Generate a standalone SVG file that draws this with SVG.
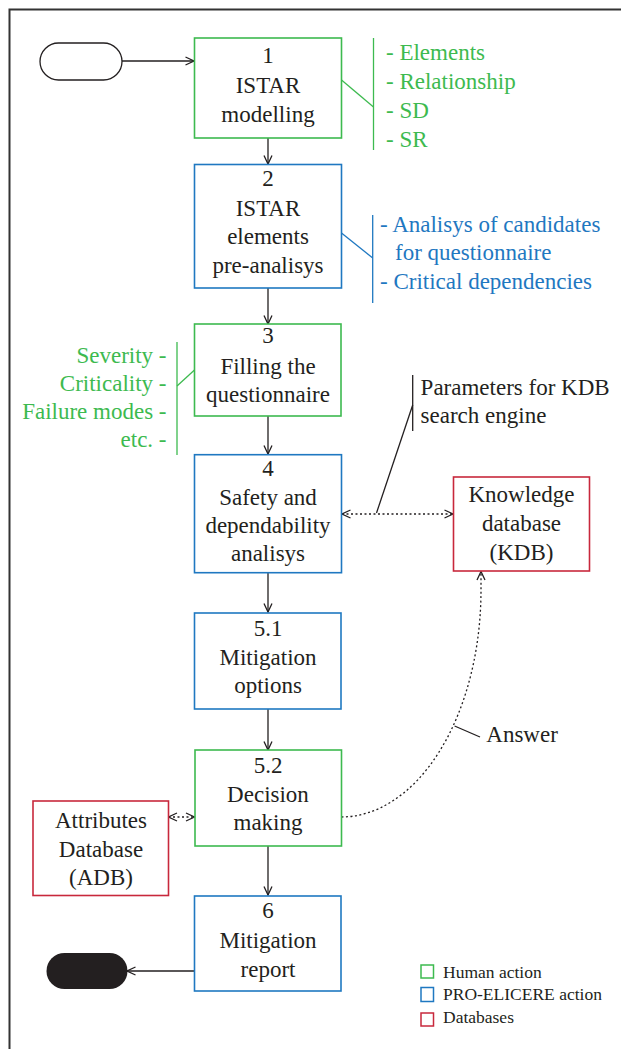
<svg xmlns="http://www.w3.org/2000/svg" width="621" height="1049" viewBox="0 0 621 1049">
<style>
text{font-family:"Liberation Serif","Times New Roman",serif;font-size:23px;fill:#231f20}
.c{text-anchor:middle}
.g{fill:#3dba4f}
.b{fill:#1f78c1}
.r{text-anchor:end}
.leg{font-size:17.5px}
.box{fill:#fff;stroke-width:1.6}
.hum{stroke:#3dba4f}
.pro{stroke:#1f78c1}
.db{stroke:#c8283c}
.ln{fill:none;stroke:#231f20;stroke-width:1.3}
.dot{fill:none;stroke:#231f20;stroke-width:1.3;stroke-dasharray:2 2.5}
</style>
<defs>
<marker id="a" viewBox="0 0 10 10" refX="9.5" refY="5" markerWidth="10" markerHeight="10" markerUnits="userSpaceOnUse" orient="auto-start-reverse">
<path d="M1,1 L9.5,5 L1,9" fill="none" stroke="#231f20" stroke-width="1.3"/>
</marker>
</defs>
<rect width="621" height="1049" fill="#fff"/>
<path d="M9.5,1049 V9.5 H621" fill="none" stroke="#333" stroke-width="2"/>
<g id="connectors">
<line class="ln" x1="122" y1="61" x2="194" y2="61" marker-end="url(#a)"/>
<line class="ln" x1="268" y1="138" x2="268" y2="164" marker-end="url(#a)"/>
<line class="ln" x1="268" y1="288" x2="268" y2="324" marker-end="url(#a)"/>
<line class="ln" x1="268" y1="416" x2="268" y2="454" marker-end="url(#a)"/>
<line class="ln" x1="268" y1="573" x2="268" y2="612" marker-end="url(#a)"/>
<line class="ln" x1="268" y1="709" x2="268" y2="750" marker-end="url(#a)"/>
<line class="ln" x1="268" y1="846" x2="268" y2="895" marker-end="url(#a)"/>
<line class="ln" x1="194" y1="971" x2="127" y2="971" marker-end="url(#a)"/>
<line class="dot" x1="342" y1="514" x2="453" y2="514" marker-start="url(#a)" marker-end="url(#a)"/>
<line class="dot" x1="168.5" y1="817" x2="194.5" y2="817" marker-start="url(#a)" marker-end="url(#a)"/>
<path class="dot" d="M341.5,817 A140,227 0 0 0 481,590 L481,571.5" marker-end="url(#a)"/>
<line class="ln" x1="376.5" y1="513" x2="412.7" y2="405"/>
<line class="ln" x1="412.7" y1="375" x2="412.7" y2="431"/>
<line class="ln" x1="454.6" y1="726" x2="480" y2="737"/>
</g>
<g id="start"><rect x="40" y="43" width="82" height="37" rx="18.5" fill="#fff" stroke="#231f20" stroke-width="1.3"/></g>
<g id="end"><rect x="46.5" y="953" width="81" height="36" rx="18" fill="#231f20"/></g>
<g id="n1">
<rect class="box hum" x="194.5" y="38" width="147" height="100"/>
<text class="c" x="268" y="63">1</text>
<text class="c" x="268" y="93">ISTAR</text>
<text class="c" x="268" y="122">modelling</text>
</g>
<g id="n1-notes">
<line x1="341.5" y1="80" x2="373.5" y2="107" stroke="#3dba4f" stroke-width="1.3"/>
<line x1="373.5" y1="38" x2="373.5" y2="150" stroke="#3dba4f" stroke-width="1.3"/>
<text class="g" x="386" y="60">- Elements</text>
<text class="g" x="386" y="89">- Relationship</text>
<text class="g" x="386" y="118">- SD</text>
<text class="g" x="386" y="147">- SR</text>
</g>
<g id="n2">
<rect class="box pro" x="194.5" y="164.5" width="147" height="123.5"/>
<text class="c" x="268" y="186">2</text>
<text class="c" x="268" y="215.5">ISTAR</text>
<text class="c" x="268" y="244">elements</text>
<text class="c" x="268" y="273">pre-analisys</text>
</g>
<g id="n2-notes">
<line x1="341.5" y1="233" x2="372.7" y2="258" stroke="#1f78c1" stroke-width="1.3"/>
<line x1="372.7" y1="215" x2="372.7" y2="303" stroke="#1f78c1" stroke-width="1.3"/>
<text class="b" x="380" y="232">- Analisys of candidates</text>
<text class="b" x="395" y="260">for questionnaire</text>
<text class="b" x="380" y="288.5">- Critical dependencies</text>
</g>
<g id="n3">
<rect class="box hum" x="194.5" y="324" width="146.5" height="92"/>
<text class="c" x="268" y="343">3</text>
<text class="c" x="268" y="374">Filling the</text>
<text class="c" x="268" y="402">questionnaire</text>
</g>
<g id="n3-notes">
<line x1="194.5" y1="370" x2="177" y2="386" stroke="#3dba4f" stroke-width="1.3"/>
<line x1="177" y1="342" x2="177" y2="455" stroke="#3dba4f" stroke-width="1.3"/>
<text class="g r" x="166.5" y="363">Severity -</text>
<text class="g r" x="166.5" y="391">Criticality -</text>
<text class="g r" x="166.5" y="419">Failure modes -</text>
<text class="g r" x="166.5" y="447">etc. -</text>
</g>
<g id="n4">
<rect class="box pro" x="194.5" y="454.7" width="147" height="118"/>
<text class="c" x="268" y="476">4</text>
<text class="c" x="268" y="505">Safety and</text>
<text class="c" x="268" y="533">dependability</text>
<text class="c" x="268" y="561">analisys</text>
</g>
<g id="param-label">
<text x="420.6" y="395">Parameters for KDB</text>
<text x="420.6" y="423">search engine</text>
</g>
<g id="kdb">
<rect class="box db" x="453.5" y="477" width="136" height="94"/>
<text class="c" x="521.5" y="502">Knowledge</text>
<text class="c" x="521.5" y="531">database</text>
<text class="c" x="521.5" y="559.5">(KDB)</text>
</g>
<g id="n51">
<rect class="box pro" x="194.5" y="613" width="146.5" height="96"/>
<text class="c" x="268" y="636">5.1</text>
<text class="c" x="268" y="665">Mitigation</text>
<text class="c" x="268" y="693">options</text>
</g>
<g id="answer-label"><text x="486.3" y="742">Answer</text></g>
<g id="n52">
<rect class="box hum" x="195" y="750" width="146.5" height="96"/>
<text class="c" x="268" y="773">5.2</text>
<text class="c" x="268" y="802">Decision</text>
<text class="c" x="268" y="830">making</text>
</g>
<g id="adb">
<rect class="box db" x="33" y="801" width="135.5" height="94.5"/>
<text class="c" x="101" y="828">Attributes</text>
<text class="c" x="101" y="857">Database</text>
<text class="c" x="101" y="885">(ADB)</text>
</g>
<g id="n6">
<rect class="box pro" x="194.5" y="896" width="146.5" height="95"/>
<text class="c" x="268" y="918">6</text>
<text class="c" x="268" y="948">Mitigation</text>
<text class="c" x="268" y="977">report</text>
</g>
<g id="legend">
<rect x="421" y="965" width="12.5" height="13" fill="#fff" stroke="#3dba4f" stroke-width="1.5"/>
<rect x="421" y="987.5" width="12.5" height="14" fill="#fff" stroke="#1f78c1" stroke-width="1.5"/>
<rect x="421" y="1013" width="12.5" height="13" fill="#fff" stroke="#c8283c" stroke-width="1.5"/>
<text class="leg" x="443" y="977.5">Human action</text>
<text class="leg" x="443" y="1000">PRO-ELICERE action</text>
<text class="leg" x="443" y="1022.5">Databases</text>
</g>
</svg>
